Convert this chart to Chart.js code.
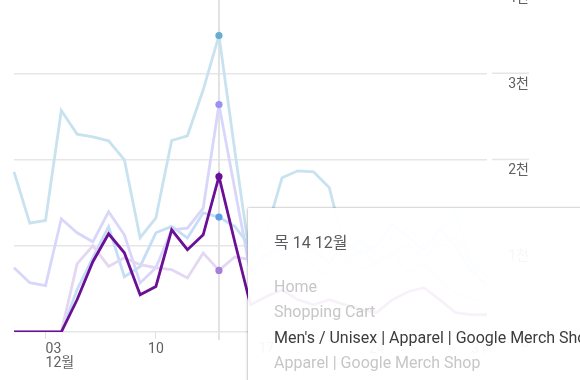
<!DOCTYPE html>
<html>
<head>
<meta charset="utf-8">
<script src="https://cdn.jsdelivr.net/npm/chart.js@4.4.1/dist/chart.umd.min.js"></script>
<style>
  html, body { margin: 0; padding: 0; background: #fff; width: 580px; height: 380px; overflow: hidden; }
  #wrap { position: absolute; left: 0; top: -40px; width: 580px; height: 420px; }
  #tip {
    position: absolute; left: 248px; top: 208px; width: 420px; height: 240px;
    background: rgba(255,255,255,0.95);
    box-shadow: 0 0 2px rgba(0,0,0,0.35), 0 1px 4px rgba(0,0,0,0.15);
    font-family: Roboto, "Noto Sans CJK KR", sans-serif; font-size: 16px;
    white-space: nowrap; z-index: 2;
  }
  #tip .title { position: absolute; left: 26px; top: 22px; line-height: 25px; color: #5a5a5a; }
  #tip .item { position: absolute; left: 26px; line-height: 25px; }
</style>
</head>
<body>
<div id="wrap"><canvas id="c" width="580" height="420"></canvas></div>
<div id="tip"></div>
<script>
// ---- data ----
const days = ['01','02','03','04','05','06','07','08','09','10','11','12','13','14','15','16',
              '17','18','19','20','21','22','23','24','25','26','27','28','29','30','31'];
const xTickIndices = [2, 9, 16, 23, 30];
const xTickLabels = [['03', '12월'], '10', '17', '24', '31'];
const yTickValues = [0, 1000, 2000, 3000, 4000];
const yTickLabels = ['0', '1천', '2천', '3천', '4천'];

const homeVals    = [1857,1263,1293,2568,2294,2263,2217,1997,1093,1324,2220,2275,2808,3437,2107,815,1160,1788,1869,1857,1672,950,1050,900,1100,1200,1000,1150,1400,800,450];
const cartVals    = [745,571,537,1313,1150,1046,1394,1127,568,745,1185,1205,1437,2637,1660,687,900,1000,1100,950,800,1050,900,1000,1250,1100,950,1200,1000,700,550];
const mensVals    = [0,0,0,0,374,815,1139,919,432,528,1185,954,1127,1803,1046,316,410,490,375,315,375,315,260,225,375,467,513,375,225,200,200];
const apparelVals = [0,0,0,0,490,861,1220,641,760,1150,1224,1089,1382,1333,1224,988,850,950,1000,900,1000,850,950,800,900,1000,850,1050,1100,800,650];
const fifthVals   = [0,0,0,0,790,1000,760,861,780,745,722,626,915,714,869,838,780,880,900,760,650,820,720,800,930,700,780,600,450,380,350];

const seriesNames = ['Home', 'Shopping Cart', "Men's / Unisex | Apparel | Google Merch Shop", 'Apparel | Google Merch Shop'];
const tooltipTitle = '목 14 12월';
const hoverIndex = 13;
const activeSeries = 2;

// ---- styles ----
const FONT = 'Roboto, "Noto Sans CJK KR", sans-serif';
const tickFontSize = 14;
const meas = document.createElement('canvas').getContext('2d');
meas.font = tickFontSize + 'px ' + FONT;
const widestY = Math.max(...yTickLabels.map(t => meas.measureText(t).width));
const yAxisWidth = 42;

function pr(ctx) { return ctx.dataIndex === hoverIndex ? 3.6 : 0; }

const datasets = [
  { label: seriesNames[0], data: homeVals, borderColor: '#c8e2f0', pointBackgroundColor: '#6aabd0', order: 4 },
  { label: seriesNames[1], data: cartVals, borderColor: '#d8d6fa', pointBackgroundColor: '#9a92ee', order: 3 },
  { label: seriesNames[2], data: mensVals, borderColor: '#6a0f96', pointBackgroundColor: '#6a0f96', order: 0 },
  { label: seriesNames[3], data: apparelVals, borderColor: '#c6ddf6', pointBackgroundColor: '#5e9fe8', order: 2 },
  { label: '', data: fifthVals, borderColor: '#e3d7f3', pointBackgroundColor: '#a680d8', order: 1 }
].map(d => Object.assign(d, {
  borderWidth: 2.8, tension: 0, pointRadius: pr, pointHoverRadius: pr,
  pointBorderWidth: 0, fill: false
}));

const extras = {
  id: 'extras',
  beforeDatasetsDraw(chart) {
    const ctx = chart.ctx, ca = chart.chartArea;
    const xs = chart.scales.x, ys = chart.scales.y;
    ctx.save();
    // gridline continuation under the axis labels
    ctx.strokeStyle = '#e6e6e6'; ctx.lineWidth = 1.5;
    ys.ticks.forEach(t => {
      const y = ys.getPixelForValue(t.value);
      ctx.beginPath(); ctx.moveTo(ca.right + 5, y); ctx.lineTo(ys.right, y); ctx.stroke();
    });
    // hover line
    const x = xs.getPixelForValue(hoverIndex);
    ctx.strokeStyle = '#e2e2e2'; ctx.lineWidth = 2;
    ctx.beginPath(); ctx.moveTo(x, 0); ctx.lineTo(x, ca.bottom + 8); ctx.stroke();
    ctx.restore();
  }
};

const chart = new Chart(document.getElementById('c'), {
  type: 'line',
  data: { labels: days, datasets: datasets },
  options: {
    responsive: false, animation: false, events: [],
    layout: { padding: { left: 14, right: 580 - 487 - yAxisWidth, top: 27, bottom: 0 } },
    plugins: { legend: { display: false }, tooltip: { enabled: false } },
    scales: {
      x: {
        type: 'category', offset: false,
        afterBuildTicks: s => { s.ticks = s.ticks.filter(t => xTickIndices.includes(t.value)); },
        afterFit: s => { s.height = 48; s.paddingLeft = 0; s.paddingRight = 0; },
        border: { display: false },
        grid: { display: true, drawOnChartArea: false, drawTicks: true, tickLength: 7, color: '#e0e0e0', lineWidth: 1 },
        ticks: {
          autoSkip: false, maxRotation: 0, align: 'inner', padding: 3,
          color: '#616161', font: { family: FONT, size: 14, lineHeight: 1.0 },
          callback: (v) => { const k = xTickIndices.indexOf(v); return k >= 0 ? xTickLabels[k] : ''; }
        }
      },
      y: {
        position: 'right', min: 0, max: 4000,
        afterBuildTicks: s => { s.ticks = yTickValues.map(v => ({ value: v })); },
        afterFit: s => { s.width = yAxisWidth; s.paddingTop = 0; s.paddingBottom = 0; },
        border: { display: false },
        grid: { color: '#e6e6e6', lineWidth: 1.5, drawTicks: false },
        ticks: {
          crossAlign: 'far', padding: yAxisWidth - widestY, labelOffset: 11,
          color: '#616161', font: { family: FONT, size: tickFontSize },
          callback: (v) => { const k = yTickValues.indexOf(v); return k >= 0 ? yTickLabels[k] : ''; }
        }
      }
    }
  },
  plugins: [extras]
});

// ---- tooltip box (HTML) ----
const tip = document.getElementById('tip');
const t = document.createElement('div');
t.className = 'title'; t.textContent = tooltipTitle; tip.appendChild(t);
seriesNames.forEach((name, i) => {
  const d = document.createElement('div');
  d.className = 'item';
  d.style.top = (66 + i * 25.3) + 'px';
  d.style.color = i === activeSeries ? '#3c3c3c' : '#c6c6c6';
  d.textContent = name;
  tip.appendChild(d);
});
</script>
</body>
</html>
